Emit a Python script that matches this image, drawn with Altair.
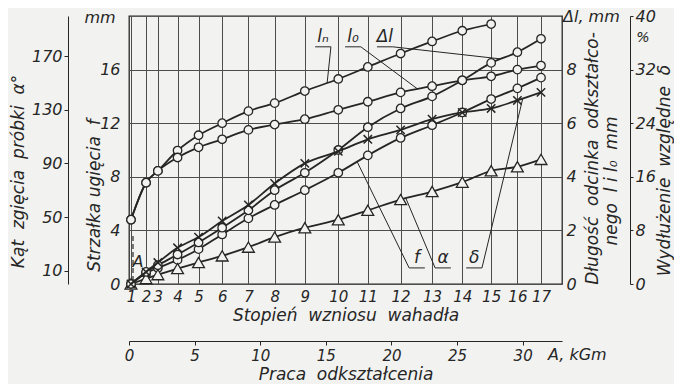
import altair as alt
import pandas as pd

# ---- data ----
stopien = [str(i) for i in range(1, 18)]                     # Stopień wzniosu wahadła
praca_A = [0.15, 1.3, 2.2, 3.7, 5.3, 7.1, 9.1, 11.1, 13.4, 15.95,
           18.2, 20.7, 23.1, 25.4, 27.6, 29.6, 31.4]         # work A [kGm] of each degree

f_mm = [0, 0.8, 1.2, 1.8, 2.6, 3.7, 4.9, 5.9, 7.0, 8.3, 9.6, 10.9, 11.85, 12.8, 13.8, 14.6, 15.4]
alpha_deg = [0, 4, 7, 11.5, 16, 21, 27.5, 35, 42, 48, 55, 63, 69, 76, 84.5, 87.5, 93]
delta_pct = [0, 1.8, 3.2, 5.4, 7.0, 9.4, 11.8, 15.0, 18.0, 19.8, 21.6, 23.0, 24.6, 25.6, 26.2, 27.4, 28.6]
dl_mm = [0, 0.45, 0.7, 1.1, 1.55, 2.1, 2.75, 3.5, 4.15, 5.0, 5.85, 6.55, 7.0, 7.6, 8.25, 8.65, 9.15]
ln_mm = [2.4, 3.78, 4.22, 4.98, 5.55, 6.0, 6.45, 6.75, 7.2, 7.65, 8.1, 8.6, 9.05, 9.45, 9.7]
l0_mm = [2.4, 3.78, 4.22, 4.72, 5.1, 5.4, 5.75, 5.95, 6.15, 6.5, 6.8, 7.15, 7.38, 7.6, 7.75, 8.0, 8.15]

f_ticks = [0, 4, 8, 12, 16]
alpha_ticks = [10, 50, 90, 130, 170]
dl_ticks = [0, 2, 4, 6, 8]
delta_ticks = [0, 8, 16, 24, 32, 40]
A_ticks = [0, 5, 10, 15, 20, 25, 30]

# curve labels (position in A [kGm] and f-axis units) and their leader lines
lab_text = ["lₙ", "l₀", "Δl", "f", "α", "δ"]
lab_A = [14.79, 17.07, 19.5, 21.95, 23.93, 26.3]
lab_f = [18.4, 18.4, 18.4, 1.95, 1.95, 1.95]
lead_A1 = [15.39, 17.67, 20.1, 21.35, 23.33, 26.9]
lead_f1 = [17.7, 17.7, 17.7, 1.2, 1.2, 1.2]
lead_A2 = [15.1, 22.0, 28.3, 17.4, 21.1, 30.0]
lead_f2 = [15.0, 14.55, 16.8, 9.1, 6.4, 13.8]

# ---- styling ----
INK = "#262626"
GRID = "#4d4d4d"
BG = "#f2f2f0"
FONT = "DejaVu Sans"
W, H = 433, 268
X_DOM = [0, 33]
NB = "\u00a0"


def xenc(axis=None):
    return alt.X("A:Q", scale=alt.Scale(domain=X_DOM, nice=False, zero=False), axis=axis)


def yenc(field, dom, axis=None):
    return alt.Y(f"{field}:Q", scale=alt.Scale(domain=dom, nice=False, zero=False), axis=axis)


def pt(shape, size, filled=True, sw=1.3):
    if filled:
        return alt.OverlayMarkDef(shape=shape, size=size, filled=True, fill=BG,
                                  stroke=INK, strokeWidth=sw, opacity=1)
    return alt.OverlayMarkDef(shape=shape, size=size, filled=False,
                              stroke=INK, strokeWidth=sw, opacity=1)


LINE = dict(color=INK, strokeWidth=1.8, interpolate="monotone")

pos_js = "[" + ",".join(str(v) for v in praca_A) + "]"
lab_js = "[" + ",".join(f"'{s}'" for s in stopien) + "]"
deg_label_expr = f"{lab_js}[indexof({pos_js}, datum.value)]"

deg_axis = alt.Axis(orient="bottom", values=praca_A, labelExpr=deg_label_expr, grid=True,
                    gridColor=GRID, gridWidth=1, ticks=False, domain=False, labelPadding=5,
                    labelFontSize=15, labelOverlap=False, labelFlush=False,
                    title=f"Stopień{NB}{NB}wzniosu{NB}{NB}wahadła", titlePadding=3)
f_axis = alt.Axis(orient="left", values=f_ticks, grid=True, gridColor=GRID, gridWidth=1,
                  ticks=False, domain=False, labelPadding=9, labelFontSize=16,
                  title=f"Strzałka{NB}ugięcia{NB}{NB}f", titleAngle=270, titleX=-35, titleY=179,
                  titleBaseline="middle", titleAlign="center")
a_axis = alt.Axis(orient="left", offset=61, values=alpha_ticks, grid=False, ticks=True,
                  tickSize=4, tickColor=INK, domain=True, domainColor=INK, labelPadding=2,
                  labelFontSize=16, title=f"Kąt{NB}{NB}zgięcia{NB}{NB}próbki{NB}{NB}α°",
                  titleAngle=270, titleX=-50, titleY=155, titleBaseline="middle",
                  titleAlign="center")
A_axis = alt.Axis(orient="bottom", offset=57, values=A_ticks, grid=False, domain=True,
                  domainColor=INK, ticks=True, tickSize=4, tickColor=INK, labelPadding=3,
                  labelFontSize=15, labelFlush=False,
                  title=f"Praca{NB}{NB}odkształcenia", titlePadding=3)
dl_axis = alt.Axis(orient="right", values=dl_ticks, grid=False, ticks=False, domain=False,
                   labelPadding=4, labelFontSize=16,
                   title=f"Długość{NB}{NB}odcinka{NB}{NB}odkształco-", titleAngle=270,
                   titleX=30, titleY=142, titleBaseline="middle", titleAlign="center")
d_axis = alt.Axis(orient="right", offset=68, values=delta_ticks, grid=False, domain=True,
                  domainColor=INK, ticks=True, tickSize=3, tickColor=INK, labelPadding=2,
                  labelFontSize=16, title=f"Wydłużenie{NB}{NB}względne{NB}{NB}δ",
                  titleAngle=270, titleX=34, titleY=154, titleBaseline="middle",
                  titleAlign="center")

# ---- layers ----
df_f = pd.DataFrame({"A": praca_A, "f": f_mm})
f_layer = alt.Chart(df_f).mark_line(point=pt("circle", 72), **LINE).encode(
    x=xenc(deg_axis), y=yenc("f", [0, 20], f_axis))

df_a = pd.DataFrame({"A": praca_A, "alpha": alpha_deg})
a_layer = alt.Chart(df_a).mark_line(point=pt("triangle-up", 140), **LINE).encode(
    x=xenc(A_axis), y=yenc("alpha", [0, 200], a_axis))

df_l = pd.concat([
    pd.DataFrame({"A": praca_A[:len(ln_mm)], "mm": ln_mm, "s": "ln"}),
    pd.DataFrame({"A": praca_A, "mm": l0_mm, "s": "l0"}),
    pd.DataFrame({"A": praca_A, "mm": dl_mm, "s": "dl"}),
])
l_layer = alt.Chart(df_l).mark_line(point=pt("circle", 72), **LINE).encode(
    x=xenc(), y=yenc("mm", [0, 10], dl_axis), detail="s:N")

df_d = pd.DataFrame({"A": praca_A, "delta": delta_pct})
d_line = alt.Chart(df_d).mark_line(
    point=pt("M-1,-1L1,1M-1,1L1,-1", 70, filled=False, sw=1.5), **LINE).encode(
    x=xenc(), y=yenc("delta", [0, 40], d_axis))

df_lab = pd.DataFrame({"A": lab_A, "f": lab_f, "t": lab_text})
lab_layer = alt.Chart(df_lab).mark_text(font=FONT, fontStyle="italic", fontSize=17,
                                        color=INK, baseline="middle").encode(
    x=xenc(), y=yenc("f", [0, 20]), text="t:N")

# underline + leader lines for the curve labels
seg_rows = []
for i in range(len(lab_text)):
    seg_rows.append({"x1": lab_A[i] - 0.6, "x2": lab_A[i] + 0.6, "y1": lead_f1[i], "y2": lead_f1[i]})
    seg_rows.append({"x1": lead_A1[i], "x2": lead_A2[i], "y1": lead_f1[i], "y2": lead_f2[i]})
df_seg = pd.DataFrame(seg_rows)
seg_layer = alt.Chart(df_seg).mark_rule(color=INK, strokeWidth=1).encode(
    x=alt.X("x1:Q", scale=alt.Scale(domain=X_DOM, nice=False, zero=False), axis=None),
    x2="x2:Q",
    y=alt.Y("y1:Q", scale=alt.Scale(domain=[0, 20], nice=False, zero=False), axis=None),
    y2="y2:Q")

# small fixed annotations (plot-relative pixels)
ann_text = ["mm", f"Δl,{NB}mm", "%", f"A,{NB}kGm", "A"]
ann_x = [-29, 434, 514, 419, 9]
ann_y = [2, 1, 22, 339, 246]
ann_size = [16, 16, 14, 16, 16]
ann_align = ["center", "left", "center", "left", "center"]
ann_layers = []
for t, x, y, s, al in zip(ann_text, ann_x, ann_y, ann_size, ann_align):
    ann_layers.append(
        alt.Chart(pd.DataFrame({"px": [x], "py": [y], "t": [t]})).mark_text(
            font=FONT, fontStyle="italic", fontSize=s, color=INK, align=al,
            baseline="middle").encode(
            x=alt.X("px:Q", scale=None, axis=None), y=alt.Y("py:Q", scale=None, axis=None),
            text="t:N"))

rot_layer = alt.Chart(pd.DataFrame({"px": [483], "py": [165],
                                    "t": [f"nego{NB}{NB}l{NB}i{NB}l₀{NB}{NB}mm"]})).mark_text(
    font=FONT, fontStyle="italic", fontSize=17, color=INK, angle=270, align="center",
    baseline="middle").encode(
    x=alt.X("px:Q", scale=None, axis=None), y=alt.Y("py:Q", scale=None, axis=None), text="t:N")

dash_layer = alt.Chart(pd.DataFrame({"px": [4], "py": [220], "py2": [266]})).mark_rule(
    color=INK, strokeWidth=1.2, strokeDash=[5, 3]).encode(
    x=alt.X("px:Q", scale=None, axis=None), y=alt.Y("py:Q", scale=None, axis=None),
    y2="py2:Q")

chart = alt.layer(
    f_layer, a_layer, l_layer, d_line, seg_layer, lab_layer, rot_layer, dash_layer, *ann_layers
).resolve_scale(x="independent", y="independent").properties(
    width=W, height=H,
    padding={"left": 121, "top": 8, "right": 112, "bottom": 100},
    autosize=alt.AutoSizeParams(type="none"),
    background=BG,
).configure_view(stroke=INK, strokeWidth=1.3).configure_axis(
    labelFont=FONT, titleFont=FONT, labelFontStyle="italic", titleFontStyle="italic",
    titleFontWeight="normal", labelColor=INK, titleColor=INK, titleFontSize=17)

chart.save("out.html", embed_options={"renderer": "svg", "actions": False})
